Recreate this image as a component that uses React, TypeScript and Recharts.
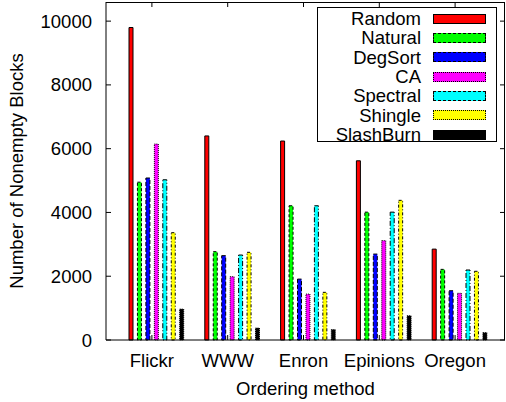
import React from "react";
import { BarChart, Bar, XAxis, YAxis, Legend } from "recharts";

const CATEGORIES = ["Flickr", "WWW", "Enron", "Epinions", "Oregon"];
const RANDOM = [9800, 6400, 6240, 5620, 2850];
const NATURAL = [4950, 2770, 4210, 4010, 2215];
const DEGSORT = [5080, 2645, 1910, 2695, 1545];
const CA = [6145, 1985, 1440, 3115, 1465];
const SPECTRAL = [5025, 2665, 4210, 4010, 2195];
const SHINGLE = [3365, 2750, 1495, 4380, 2155];
const SLASHBURN = [970, 375, 325, 760, 230];
const Y_TICKS = [0, 2000, 4000, 6000, 8000, 10000];

const FONT = "'Liberation Sans', Arial, sans-serif";
const FS = 18.5;
const CHART_W = 506;
const CHART_H = 402;
const MARGIN = { top: 2, right: 1, bottom: 0, left: 0 };
const Y_AXIS_W = 106;
const X_AXIS_H = 62;
const PLOT_TOP = MARGIN.top;
const PLOT_RIGHT = CHART_W - MARGIN.right;

// name, values, fill, svg dash for the bar outline, css border style for legend swatch
const SERIES = [
  { key: "random", name: "Random", values: RANDOM, color: "#ff0000", dash: undefined, css: "solid" },
  { key: "natural", name: "Natural", values: NATURAL, color: "#00ff00", dash: "3 2", css: "dashed" },
  { key: "degsort", name: "DegSort", values: DEGSORT, color: "#0000ff", dash: "4 2", css: "dashed" },
  { key: "ca", name: "CA", values: CA, color: "#ff00ff", dash: "1 1", css: "dotted" },
  { key: "spectral", name: "Spectral", values: SPECTRAL, color: "#00ffff", dash: "5 2 1 2", css: "dashed" },
  { key: "shingle", name: "Shingle", values: SHINGLE, color: "#ffff00", dash: "3 2 1 2", css: "dotted" },
  { key: "slashburn", name: "SlashBurn", values: SLASHBURN, color: "#000000", dash: "1 1", css: "dotted" },
];

const data = CATEGORIES.map((name, i) => {
  const row: Record<string, string | number> = { name };
  SERIES.forEach((s) => (row[s.key] = s.values[i]));
  return row;
});

// gnuplot puts the category tick a few px left of the bar cluster centre
const TICK_SHIFT = -4;
const TICK_LEN = 5;
const Y_LABEL_GAP = 14;

// category tick: label below, inward marks on bottom and top border
function BottomTick({ x, y, payload }: any) {
  const cx = x + TICK_SHIFT;
  return (
    <g>
      <line x1={cx} x2={cx} y1={y} y2={y - TICK_LEN} stroke="#000" strokeWidth={1} />
      <line x1={cx} x2={cx} y1={PLOT_TOP} y2={PLOT_TOP + TICK_LEN} stroke="#000" strokeWidth={1} />
      <text x={cx} y={y + 20} textAnchor="middle" dominantBaseline="central" fontSize={FS} fill="#000">
        {payload.value}
      </text>
    </g>
  );
}

// value tick: label on the left, inward marks on left and right border
function LeftTick({ x, y, payload }: any) {
  const ax = x + Y_LABEL_GAP;
  return (
    <g>
      <line x1={ax} x2={ax + TICK_LEN} y1={y} y2={y} stroke="#000" strokeWidth={1} />
      <line x1={PLOT_RIGHT} x2={PLOT_RIGHT - TICK_LEN} y1={y} y2={y} stroke="#000" strokeWidth={1} />
      <text x={x} y={y} textAnchor="end" dominantBaseline="central" fontSize={FS} fill="#000">
        {payload.value}
      </text>
    </g>
  );
}

function XTitle({ viewBox }: any) {
  const { x, y, width } = viewBox;
  return (
    <text x={x + width / 2} y={y + 48} textAnchor="middle" dominantBaseline="central" fontSize={FS} fill="#000">
      Ordering method
    </text>
  );
}

function YTitle({ viewBox }: any) {
  const cx = viewBox.x + 16;
  const cy = viewBox.y + viewBox.height / 2;
  return (
    <text
      x={cx}
      y={cy}
      transform={`rotate(-90 ${cx} ${cy})`}
      textAnchor="middle"
      dominantBaseline="central"
      fontSize={FS}
      fill="#000"
    >
      Number of Nonempty Blocks
    </text>
  );
}

function LegendBox() {
  return (
    <div
      style={{
        boxSizing: "border-box",
        width: 180,
        height: 135,
        border: "1px solid #000",
        paddingTop: 1,
        background: "#fff",
        fontFamily: FONT,
      }}
    >
      {SERIES.map((s) => (
        <div key={s.key} style={{ display: "flex", alignItems: "center", height: 19.33 }}>
          <span style={{ width: 103, textAlign: "right", fontSize: FS, lineHeight: "19px", color: "#000" }}>
            {s.name}
          </span>
          <span
            style={{
              marginLeft: 12,
              width: 53,
              height: 10,
              boxSizing: "border-box",
              background: s.color,
              border: `1px ${s.css} #000`,
            }}
          />
        </div>
      ))}
    </div>
  );
}

export default function App() {
  return (
    <div style={{ position: "relative", width: CHART_W, height: CHART_H }}>
      <style>{"body{margin:0}"}</style>
      <BarChart
        width={CHART_W}
        height={CHART_H}
        data={data}
        margin={MARGIN}
        barGap={4.45}
        style={{ fontFamily: FONT }}
      >
        <XAxis
          dataKey="name"
          height={X_AXIS_H}
          padding={{ left: 12, right: 8 }}
          interval={0}
          stroke="#000"
          axisLine={{ stroke: "#000" }}
          tickLine={false}
          tickSize={0}
          tickMargin={0}
          tick={<BottomTick />}
          label={{ content: (p: any) => <XTitle {...p} /> }}
        />
        <YAxis
          width={Y_AXIS_W}
          domain={[0, 10600]}
          ticks={Y_TICKS}
          interval={0}
          stroke="#000"
          axisLine={{ stroke: "#000" }}
          tickLine={false}
          tickSize={0}
          tickMargin={Y_LABEL_GAP}
          tick={<LeftTick />}
          label={{ content: (p: any) => <YTitle {...p} /> }}
        />
        <Legend
          layout="vertical"
          align="center"
          verticalAlign="middle"
          wrapperStyle={{ left: 317, top: 7, width: 180, height: 135 }}
          content={() => <LegendBox />}
        />
        {SERIES.map((s) => (
          <Bar
            key={s.key}
            dataKey={s.key}
            name={s.name}
            fill={s.color}
            stroke="#000"
            strokeWidth={1}
            strokeDasharray={s.dash}
            barSize={4}
            isAnimationActive={false}
          />
        ))}
      </BarChart>
      {/* top and right side of the plot frame */}
      <div
        style={{
          position: "absolute",
          left: Y_AXIS_W,
          top: PLOT_TOP,
          width: PLOT_RIGHT - Y_AXIS_W,
          height: CHART_H - X_AXIS_H - PLOT_TOP,
          boxSizing: "border-box",
          borderTop: "1px solid #000",
          borderRight: "1px solid #000",
          pointerEvents: "none",
        }}
      />
    </div>
  );
}
